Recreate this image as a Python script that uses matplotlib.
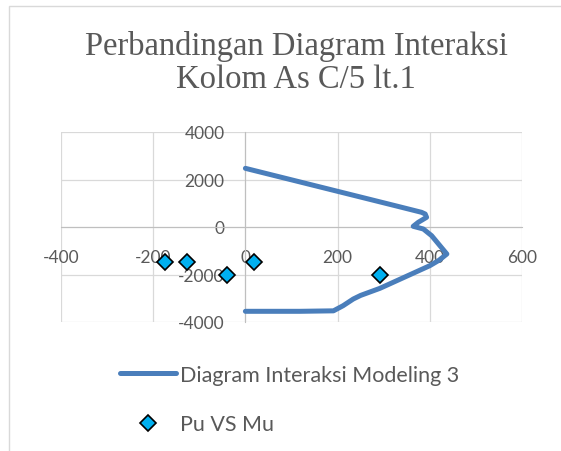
import matplotlib
matplotlib.use("Agg")
import matplotlib.pyplot as plt
from matplotlib.patches import Rectangle

plt.rcParams["axes.unicode_minus"] = False

# interaction diagram (Mu, Pu)
diagram_mu = [0, 325, 382, 390, 393, 375, 364, 386, 404, 422, 437, 420, 400, 292, 250, 234, 212, 191, 118, 0]
diagram_pu = [2470, 897, 619, 547, 408, 198, 29, -84, -366, -787, -1137, -1400, -1629, -2581, -2880, -3032, -3313, -3530, -3550, -3550]

# design loads
load_mu = [-174, -127, -39, 19, 293]
load_pu = [-1486, -1486, -2021, -1486, -2021]

x_ticks = [-400, -200, 0, 200, 400, 600]
y_ticks = [-4000, -2000, 0, 2000, 4000]

title = "Perbandingan Diagram Interaksi\nKolom As C/5 lt.1"
line_label = "Diagram Interaksi Modeling 3"
point_label = "Pu VS Mu"

text_grey = "#595959"
grid_grey = "#d9d9d9"

fig = plt.figure(figsize=(5.61, 4.52), dpi=100)
W, H = 561, 452

# chart border (cropped on right/bottom like the screenshot)
fig.add_artist(Rectangle((9 / W, -0.1), 1.2, 1 - 7 / H + 0.1, transform=fig.transFigure,
                         fill=False, edgecolor=grid_grey, lw=1.0))

ax = fig.add_axes([61 / W, 1 - 323 / H, (522 - 61) / W, (323 - 133) / H])
ax.set_xlim(-400, 600)
ax.set_ylim(-4000, 4000)
ax.set_xticks(x_ticks)
ax.set_yticks(y_ticks)
ax.grid(True, color=grid_grey, lw=0.9)
ax.set_axisbelow(True)

for side in ["top", "right"]:
    ax.spines[side].set_visible(False)
ax.spines["left"].set_position(("data", 0))
ax.spines["bottom"].set_position(("data", 0))
ax.spines["left"].set_color("#bfbfbf")
ax.spines["bottom"].set_color("#bfbfbf")
ax.tick_params(axis="x", length=0, pad=16, labelsize=12.5, labelcolor=text_grey)
ax.tick_params(axis="y", length=0, pad=15, labelsize=12.5, labelcolor=text_grey)
for lab in ax.get_xticklabels() + ax.get_yticklabels():
    lab.set_fontfamily("Lato")

ax.plot(diagram_mu, diagram_pu, color="#4A7EBB", lw=3.6, solid_capstyle="round",
        solid_joinstyle="round", label=line_label, zorder=3)
ax.plot(load_mu, load_pu, ls="none", marker="D", ms=8, mfc="#00B0F0", mec="black",
        mew=1.2, label=point_label, zorder=4)

fig.text(296 / W, 1 - 63 / H, title, ha="center", va="center", fontsize=23.5,
         family="Liberation Serif", color=text_grey, linespacing=1.12)

leg = ax.legend(loc="upper left", bbox_to_anchor=(120 / W, 1 - 366 / H),
                bbox_transform=fig.transFigure, frameon=False, borderaxespad=0,
                borderpad=0, handlelength=2.6, handletextpad=0.2, labelspacing=1.35,
                prop={"family": "Lato", "size": 15.5})
for t in leg.get_texts():
    t.set_color(text_grey)

fig.savefig("out.png", dpi=100)
